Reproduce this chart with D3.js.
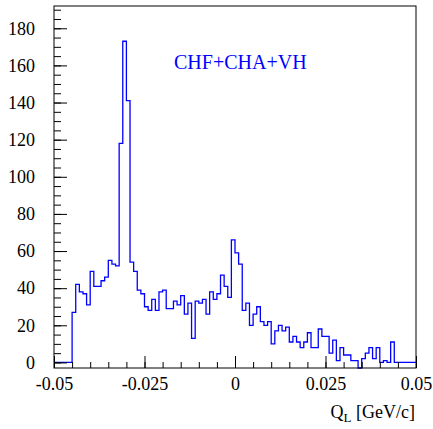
<!DOCTYPE html>
<html>
<head>
<meta charset="utf-8">
<script src="https://cdn.jsdelivr.net/npm/d3@7"></script>
<style>
  html, body { margin: 0; padding: 0; background: #fff; }
  svg { display: block; }
</style>
</head>
<body>
<svg id="chart" width="433" height="429"></svg>
<script>
// ---- data ----
const binLow = -0.05;
const binHigh = 0.05;
const binCount = 100;
const counts = [
  0, 0, 0, 0, 0, 27, 42, 38, 37, 31,
  49, 41, 41, 44, 46, 55, 53, 52, 118, 173,
  141, 54, 49, 39, 37, 30, 28, 34, 28, 38,
  39, 29, 29, 33, 31, 36, 26, 32, 13, 33,
  32, 34, 26, 38, 34, 37, 47, 41, 35, 66,
  59, 53, 28, 32, 20, 26, 30, 22, 20, 22,
  10, 17, 20, 17, 19, 11, 14, 11, 8, 11,
  16, 8, 8, 18, 14, 14, 5, 12, 1, 8,
  4, 4, 1, 1, -3, 2, 5, 8, 2, 8,
  0, 1, 0, 11, 0, 0, 0, 0, 0, 0
];
const xMajorTicks = [-0.05, -0.025, 0, 0.025, 0.05];
const xMajorLabels = ["-0.05", "-0.025", "0", "0.025", "0.05"];
const xMinorTicks = d3.range(-0.05, 0.0501, 0.005).map(v => +v.toFixed(3));
const yMajorTicks = [0, 20, 40, 60, 80, 100, 120, 140, 160, 180];
const yMinorTicks = d3.range(0, 191, 5);
const yDomain = [-3, 192];
const legendText = "CHF+CHA+VH";

// ---- layout ----
const FONT = "'Liberation Serif', 'Times New Roman', Times, Tinos, 'Nimbus Roman', 'Nimbus Roman No9 L', FreeSerif, 'Noto Serif', 'DejaVu Serif', Georgia, serif";
const svg = d3.select("#chart");
const mLeft = 54, mRight = 416, mTop = 6, mBottom = 368;

const x = d3.scaleLinear().domain([binLow, binHigh]).range([mLeft, mRight]);
const y = d3.scaleLinear().domain(yDomain).range([mBottom, mTop]);

// histogram
const binWidth = (binHigh - binLow) / binCount;
const pts = counts.map((c, i) => [binLow + i * binWidth, c]);
pts.push([binHigh, counts[counts.length - 1]]);
const line = d3.line()
  .x(d => x(d[0]))
  .y(d => y(d[1]))
  .curve(d3.curveStepAfter);
svg.append("path")
  .attr("d", line(pts))
  .attr("fill", "none")
  .attr("stroke", "#0000ff")
  .attr("stroke-width", 1.3);

// x axis
const xMajor = d3.axisBottom(x)
  .tickValues(xMajorTicks)
  .tickSize(-12)
  .tickPadding(9)
  .tickFormat((d, i) => xMajorLabels[i]);
const gx = svg.append("g").attr("transform", `translate(0,${mBottom})`).call(xMajor);
gx.attr("font-family", FONT).attr("font-size", 18);
gx.select(".domain").remove();
gx.selectAll("text").style("fill", "#000");

const xMinor = d3.axisBottom(x).tickValues(xMinorTicks).tickSize(-6).tickFormat("");
const gxm = svg.append("g").attr("transform", `translate(0,${mBottom})`).call(xMinor);
gxm.select(".domain").remove();

// y axis
const yMajor = d3.axisLeft(y)
  .tickValues(yMajorTicks)
  .tickSize(-13)
  .tickPadding(19)
  .tickFormat(d3.format("d"));
const gy = svg.append("g").attr("transform", `translate(${mLeft},0)`).call(yMajor);
gy.attr("font-family", FONT).attr("font-size", 18);
gy.select(".domain").remove();
gy.selectAll("text").style("fill", "#000");

const yMinor = d3.axisLeft(y).tickValues(yMinorTicks).tickSize(-7).tickFormat("");
const gym = svg.append("g").attr("transform", `translate(${mLeft},0)`).call(yMinor);
gym.select(".domain").remove();

svg.selectAll(".tick line").attr("stroke", "#000").attr("stroke-width", 1);

// frame
svg.append("rect")
  .attr("x", mLeft).attr("y", mTop)
  .attr("width", mRight - mLeft).attr("height", mBottom - mTop)
  .attr("fill", "none").attr("stroke", "#000").attr("stroke-width", 1);

// axis title
const title = svg.append("text")
  .attr("x", mRight - 1).attr("y", 418)
  .attr("text-anchor", "end")
  .attr("font-size", 18)
  .attr("font-family", FONT)
  .attr("fill", "#000");
title.append("tspan").text("Q");
title.append("tspan").attr("font-size", 13).attr("dy", 4).text("L");
title.append("tspan").attr("dy", -4).text(" [GeV/c]");

// legend text
svg.append("text")
  .attr("x", 174).attr("y", 69)
  .attr("font-size", 20)
  .attr("font-family", FONT)
  .attr("fill", "#0000ff")
  .text(legendText);
</script>
</body>
</html>
